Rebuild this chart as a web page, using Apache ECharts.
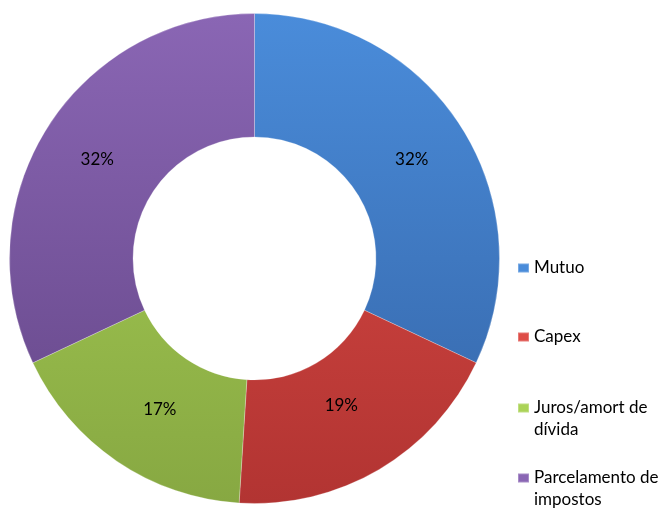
<!DOCTYPE html>
<html>
<head>
<meta charset="utf-8">
<script src="https://cdn.jsdelivr.net/npm/echarts@6/dist/echarts.min.js"></script>
<style>
  html, body { margin: 0; padding: 0; background: #fff; }
  #chart { width: 660px; height: 509px; }
</style>
</head>
<body>
<div id="chart"></div>
<script>
const categories = ['Mutuo', 'Capex', 'Juros/amort de dívida', 'Parcelamento de impostos'];
const values = [32, 19, 17, 32];

// styling (not data)
const topColors = ['#4a8cda', '#de4d47', '#abd357', '#8a66b4'];
const bottomColors = ['#3464a6', '#b23432', '#87a842', '#634586'];
const legendColors = ['#3f7ac4', '#cc3f3b', '#9bc24c', '#7654a0'];
const legendTops = [257, 326, 375, 445];
const labelNudges = [[0, 1], [-8, -13], [10, -3], [0, 1]];

const chart = echarts.init(document.getElementById('chart'));
const FONT = 'Lato';

function grad(i) {
  return {
    type: 'linear', x: 0, y: 14, x2: 0, y2: 503, global: true,
    colorStops: [{ offset: 0, color: topColors[i] }, { offset: 1, color: bottomColors[i] }]
  };
}

function legendText(name) {
  if (name.length > 12) {
    const parts = name.replace(/ (\S+)$/, '\n$1').split('\n');
    return '{p| }\n{t|' + parts[0] + '}\n{t|' + parts[1] + '}';
  }
  return '{t|' + name + '}';
}

const legends = categories.map((name, i) => ({
  data: [name],
  orient: 'vertical',
  left: 517,
  top: legendTops[i],
  padding: 0,
  icon: 'rect',
  itemWidth: 11,
  itemHeight: 9,
  selectedMode: false,
  formatter: legendText,
  textStyle: {
    fontFamily: FONT, fontSize: 17, color: '#000', lineHeight: 22,
    rich: {
      p: { fontFamily: FONT, fontSize: 17, lineHeight: 22 },
      t: { fontFamily: FONT, fontSize: 17, lineHeight: 22, color: '#000' }
    }
  }
}));

chart.setOption({
  animation: false,
  color: legendColors,
  legend: legends,
  series: [{
    type: 'pie',
    center: [254.5, 258.5],
    radius: [121.5, 245],
    startAngle: 90,
    clockwise: true,
    avoidLabelOverlap: false,
    label: {
      show: true,
      position: 'inside',
      formatter: '{d}%',
      fontFamily: FONT,
      fontSize: 17,
      color: '#000'
    },
    labelLine: { show: false },
    emphasis: { disabled: true },
    itemStyle: { borderColor: 'rgba(255,255,255,0.25)', borderWidth: 1 },
    data: categories.map((name, i) => ({
      name: name,
      value: values[i],
      itemStyle: { color: grad(i) },
      label: { offset: labelNudges[i] }
    }))
  }]
});
</script>
</body>
</html>
